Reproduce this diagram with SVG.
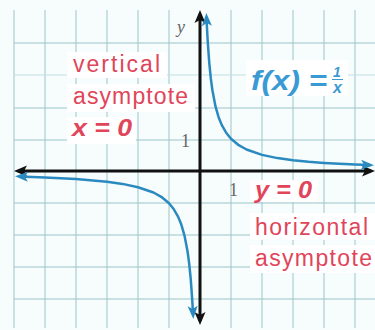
<svg xmlns="http://www.w3.org/2000/svg" width="375" height="330" viewBox="0 0 375 330">
<style>
.grid line{stroke:#9cc6ca;stroke-width:1}
.grid .lt{stroke:#c2e0e3}
.box{fill:#ffffff}
.red{font-family:"Liberation Sans",Arial,sans-serif;font-size:23px;fill:#e0455a}
.redb{font-family:"Liberation Sans",Arial,sans-serif;font-size:24px;fill:#e0455a;font-weight:bold;font-style:italic}
.blue{font-family:"Liberation Sans",Arial,sans-serif;fill:#3a9ad4;font-weight:bold;font-style:italic}
.gray{font-family:"Liberation Serif","Times New Roman",serif;font-size:18px;fill:#666}
.axis{stroke:#111;stroke-width:3;fill:none}
.curve{stroke:#2a8ac0;stroke-width:2.5;fill:none;stroke-linejoin:round}
</style>
<defs>
<marker id="ak" markerUnits="userSpaceOnUse" viewBox="-10 -6 15 12" markerWidth="15" markerHeight="12" refX="0" refY="0" orient="auto-start-reverse">
<path d="M4,0 L-9,-5.5 L-6,0 L-9,5.5 Z" fill="#111"/>
</marker>
<marker id="ab" markerUnits="userSpaceOnUse" viewBox="-10 -6 15 12" markerWidth="15" markerHeight="12" refX="0" refY="0" orient="auto-start-reverse">
<path d="M4,0 L-9,-5 L-6,0 L-9,5 Z" fill="#2a8ac0"/>
</marker>
</defs>
<rect x="0" y="0" width="375" height="330" fill="#f7fcfd"/>
<g id="grid" class="grid">
<line x1="14" y1="10" x2="14" y2="328"/>
<line x1="45" y1="10" x2="45" y2="328"/>
<line x1="76" y1="10" x2="76" y2="328"/>
<line x1="107" y1="10" x2="107" y2="328"/>
<line x1="138" y1="10" x2="138" y2="328"/>
<line x1="169" y1="10" x2="169" y2="328"/>
<line x1="231" y1="10" x2="231" y2="328"/>
<line x1="262" y1="10" x2="262" y2="328"/>
<line x1="293" y1="10" x2="293" y2="328"/>
<line x1="324" y1="10" x2="324" y2="328"/>
<line x1="355" y1="10" x2="355" y2="328"/>
<line x1="14" y1="43" x2="375" y2="43"/>
<line class="lt" x1="14" y1="75" x2="375" y2="75"/>
<line x1="14" y1="108" x2="375" y2="108"/>
<line x1="14" y1="140" x2="375" y2="140"/>
<line x1="14" y1="203" x2="375" y2="203"/>
<line x1="14" y1="235" x2="375" y2="235"/>
<line x1="14" y1="267" x2="375" y2="267"/>
<line x1="14" y1="299" x2="375" y2="299"/>
</g>
<g id="label-vertical">
<rect class="box" x="67" y="52" width="100" height="26"/>
<rect class="box" x="67" y="84" width="128" height="28"/>
<rect class="box" x="67" y="117" width="69" height="27"/>
<text class="red" x="73" y="72" textLength="87" lengthAdjust="spacing">vertical</text>
<text class="red" x="73" y="104" textLength="115" lengthAdjust="spacing">asymptote</text>
<text class="redb" x="72" y="136" textLength="60" lengthAdjust="spacingAndGlyphs">x = 0</text>
</g>
<g id="label-f">
<rect class="box" x="246" y="60" width="102" height="36"/>
<text class="blue" x="251" y="90" font-size="28" textLength="76" lengthAdjust="spacingAndGlyphs">f(x) =</text>
<text class="blue" x="333" y="77" font-size="14">1</text>
<line x1="332" y1="79.5" x2="343" y2="79.5" stroke="#3a9ad4" stroke-width="1"/>
<text class="blue" x="333" y="93" font-size="16">x</text>
</g>
<g id="label-horizontal">
<rect class="box" x="250" y="180" width="68" height="22"/>
<rect class="box" x="250" y="213" width="125" height="27"/>
<rect class="box" x="250" y="245" width="125" height="28"/>
<text class="redb" x="255" y="198" textLength="57" lengthAdjust="spacingAndGlyphs">y = 0</text>
<text class="red" x="255" y="235" textLength="113" lengthAdjust="spacing">horizontal</text>
<text class="red" x="255" y="266" textLength="117" lengthAdjust="spacing">asymptote</text>
</g>
<g id="ticks">
<text class="gray" x="181" y="147">1</text>
<text class="gray" x="229" y="196">1</text>
<text class="gray" x="177" y="33" font-style="italic">y</text>
</g>
<g id="connectors">
<path id="x-axis" class="axis" d="M18,171 L371,171" marker-start="url(#ak)" marker-end="url(#ak)"/>
<path id="y-axis" class="axis" d="M200,14 L200,321" marker-start="url(#ak)" marker-end="url(#ak)"/>
<path id="branch-right" class="curve" marker-start="url(#ab)" marker-end="url(#ab)" d="M206.5,17 L206.8,24.2 L207.75,41.8 L209.3,63.3 L210.85,78.7 L212.4,90.25 L215.5,106.4 L218.6,117.2 L221.7,124.9 L226.35,133 L231,138.7 L238.75,145.2 L246.5,149.5 L262,154.9 L277.5,158.1 L293,160.2 L308.5,161.8 L324,162.9 L339.5,163.8 L355,164.5 L370,165.1"/>
<path id="branch-left" class="curve" marker-start="url(#ab)" marker-end="url(#ab)" d="M19,176.5 L45,177.5 L76,179.1 L107,181.8 L122.5,183.9 L138,187.2 L153.5,192.5 L161.25,196.8 L169,203.3 L173.65,209 L178.3,217.1 L181.4,224.8 L184.5,235.6 L187.6,251.75 L189.15,263.3 L190.7,278.7 L192.25,300.2 L193.1,315"/>
</g>
</svg>
